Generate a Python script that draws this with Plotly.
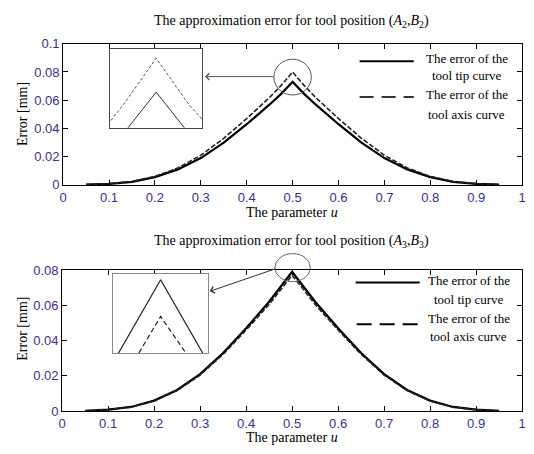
import plotly.graph_objects as go

W, H = 534, 454

# ---------------- data ----------------
u = [0.05, 0.10, 0.15, 0.20, 0.25, 0.30, 0.35, 0.40, 0.45, 0.475, 0.50,
     0.525, 0.55, 0.60, 0.65, 0.70, 0.75, 0.80, 0.85, 0.90, 0.95]

top_tip = [0.0002, 0.0008, 0.0022, 0.0055, 0.011, 0.019, 0.030, 0.043, 0.057, 0.0645, 0.073,
           0.0645, 0.057, 0.043, 0.030, 0.019, 0.011, 0.0055, 0.0022, 0.0008, 0.0002]
top_axis = [0.0002, 0.0009, 0.0024, 0.006, 0.012, 0.021, 0.033, 0.047, 0.062, 0.0705, 0.080,
            0.0705, 0.062, 0.047, 0.033, 0.021, 0.012, 0.006, 0.0024, 0.0009, 0.0002]

bot_tip = [0.0002, 0.0009, 0.0024, 0.006, 0.012, 0.021, 0.033, 0.047, 0.062, 0.0705, 0.079,
           0.0705, 0.062, 0.047, 0.033, 0.021, 0.012, 0.006, 0.0024, 0.0009, 0.0002]
bot_axis = [0.0002, 0.0009, 0.0023, 0.0058, 0.0117, 0.0205, 0.0322, 0.046, 0.0605, 0.0688, 0.077,
            0.0688, 0.0605, 0.046, 0.0322, 0.0205, 0.0117, 0.0058, 0.0023, 0.0009, 0.0002]

x_ticks = [0, 0.1, 0.2, 0.3, 0.4, 0.5, 0.6, 0.7, 0.8, 0.9, 1]
x_ticktext = ["0", "0.1", "0.2", "0.3", "0.4", "0.5", "0.6", "0.7", "0.8", "0.9", "1"]
y_ticks_top = [0, 0.02, 0.04, 0.06, 0.08, 0.1]
y_ticktext_top = ["0", "0.02", "0.04", "0.06", "0.08", "0.1"]
y_ticks_bot = [0, 0.02, 0.04, 0.06, 0.08]
y_ticktext_bot = ["0", "0.02", "0.04", "0.06", "0.08"]

series_names = ["The error of the tool tip curve", "The error of the tool axis curve"]
titles = ["The approximation error for tool position (<i>A</i><sub>2</sub>,<i>B</i><sub>2</sub>)",
          "The approximation error for tool position (<i>A</i><sub>3</sub>,<i>B</i><sub>3</sub>)"]
xlabel = "The parameter <i>u</i>"
ylabel = "Error [mm]"

# ---------------- helpers ----------------
def px(x):
    return x / W

def py(y):
    return 1 - y / H

SERIF = "Liberation Serif, Times New Roman, serif"
SANS = "Liberation Sans, Arial, sans-serif"
TICKCOL = "#33338a"

fig = go.Figure()

# main curves
fig.add_trace(go.Scatter(x=u, y=top_tip, mode="lines", name=series_names[0],
                         line=dict(color="black", width=2.2), xaxis="x", yaxis="y"))
fig.add_trace(go.Scatter(x=u, y=top_axis, mode="lines", name=series_names[1],
                         line=dict(color="#222", width=1.6, dash="5px,2px"), xaxis="x", yaxis="y"))
fig.add_trace(go.Scatter(x=u, y=bot_tip, mode="lines", name=series_names[0],
                         line=dict(color="black", width=2.2), xaxis="x2", yaxis="y2"))
fig.add_trace(go.Scatter(x=u, y=bot_axis, mode="lines", name=series_names[1],
                         line=dict(color="#222", width=1.6, dash="5px,2px"), xaxis="x2", yaxis="y2"))

# inset (zoom of peak) traces
fig.add_trace(go.Scatter(x=u, y=top_tip, mode="lines", line=dict(color="#333", width=1),
                         xaxis="x3", yaxis="y3"))
fig.add_trace(go.Scatter(x=u, y=top_axis, mode="lines", line=dict(color="#555", width=1, dash="3px,2px"),
                         xaxis="x3", yaxis="y3"))
fig.add_trace(go.Scatter(x=u, y=bot_tip, mode="lines", line=dict(color="#222", width=1.2),
                         xaxis="x4", yaxis="y4"))
fig.add_trace(go.Scatter(x=u, y=bot_axis, mode="lines", line=dict(color="#222", width=1.2, dash="5px,3px"),
                         xaxis="x4", yaxis="y4"))

main_axis = dict(showline=True, linecolor="black", linewidth=1, mirror="ticks",
                 ticks="inside", ticklen=5, tickcolor="black", showgrid=False,
                 zeroline=False, tickfont=dict(family=SANS, size=13, color=TICKCOL))

inset_axis = dict(showline=True, linewidth=1, mirror=True, ticks="", showticklabels=False,
                  showgrid=False, zeroline=False)

fig.update_layout(
    width=W, height=H, margin=dict(l=0, r=0, t=0, b=0),
    paper_bgcolor="white", plot_bgcolor="white", showlegend=False,
    xaxis=dict(main_axis, domain=[px(60), px(526)], range=[0, 1], anchor="y",
               tickvals=x_ticks, ticktext=x_ticktext),
    yaxis=dict(main_axis, domain=[py(184), py(38)], range=[0, 0.1], anchor="x",
               tickvals=y_ticks_top, ticktext=y_ticktext_top),
    xaxis2=dict(main_axis, domain=[px(59), px(526)], range=[0, 1], anchor="y2",
                tickvals=x_ticks, ticktext=x_ticktext),
    yaxis2=dict(main_axis, domain=[py(418), py(272)], range=[0, 0.08], anchor="x2",
                tickvals=y_ticks_bot, ticktext=y_ticktext_bot),
    xaxis3=dict(inset_axis, linecolor="#444", domain=[px(108), px(201)],
                range=[0.4647, 0.5353], anchor="y3"),
    yaxis3=dict(inset_axis, linecolor="#444", domain=[py(125), py(43)],
                range=[0.0656, 0.082], anchor="x3"),
    xaxis4=dict(inset_axis, linecolor="#888", domain=[px(111), px(207)],
                range=[0.4868, 0.5132], anchor="y4"),
    yaxis4=dict(inset_axis, linecolor="#888", domain=[py(358), py(276)],
                range=[0.0750, 0.07932], anchor="x4"),
)

ann = []

def text_ann(text, x, y, size, angle=0):
    ann.append(dict(text=text, x=px(x), y=py(y), xref="paper", yref="paper",
                    xanchor="center", yanchor="middle", textangle=angle,
                    showarrow=False, font=dict(family=SERIF, size=size, color="black")))

# titles
text_ann(titles[0], 292, 15, 14)
text_ann(titles[1], 292, 243, 14)
# axis titles
text_ann(xlabel, 292, 213, 14)
text_ann(xlabel, 292, 445, 14)
text_ann(ylabel, 19, 111, 14, -90)
text_ann(ylabel, 19, 333, 14, -90)

# legend texts
def legend_text(xc, ys, name):
    words = name.split(" ")
    lines = [" ".join(words[:4]), " ".join(words[4:])]
    for t, yy in zip(lines, ys):
        text_ann(t, xc, yy, 13)

legend_text(470, (53, 71), series_names[0])
legend_text(470, (91, 111), series_names[1])
legend_text(472, (283, 302), series_names[0])
legend_text(472, (322, 341), series_names[1])

# arrows
ann.append(dict(text="", x=px(204), y=py(72), xref="paper", yref="paper", showarrow=True,
                ax=70, ay=0, arrowhead=4, arrowsize=1.3, arrowwidth=1, arrowcolor="#555"))
ann.append(dict(text="", x=px(209), y=py(294), xref="paper", yref="paper", showarrow=True,
                ax=67, ay=-23, arrowhead=4, arrowsize=1.3, arrowwidth=1, arrowcolor="#333"))

fig.update_layout(annotations=ann)

shapes = []
# legend line samples
shapes.append(dict(type="line", xref="paper", yref="paper", x0=px(361), x1=px(416), y0=py(56), y1=py(56),
                   line=dict(color="black", width=2)))
shapes.append(dict(type="line", xref="paper", yref="paper", x0=px(361), x1=px(416), y0=py(93), y1=py(93),
                   line=dict(color="#333", width=2, dash="14px,8px")))
shapes.append(dict(type="line", xref="paper", yref="paper", x0=px(357), x1=px(422), y0=py(285), y1=py(285),
                   line=dict(color="black", width=2)))
shapes.append(dict(type="line", xref="paper", yref="paper", x0=px(358), x1=px(420), y0=py(328), y1=py(328),
                   line=dict(color="black", width=2, dash="15px,8px")))
# circles around the peaks
shapes.append(dict(type="circle", xref="paper", yref="paper", x0=px(274), x1=px(312), y0=py(91), y1=py(54),
                   line=dict(color="#555", width=1)))
shapes.append(dict(type="circle", xref="paper", yref="paper", x0=px(275), x1=px(311), y0=py(284), y1=py(255),
                   line=dict(color="#666", width=1)))
fig.update_layout(shapes=shapes)

fig.write_html("out.html")
